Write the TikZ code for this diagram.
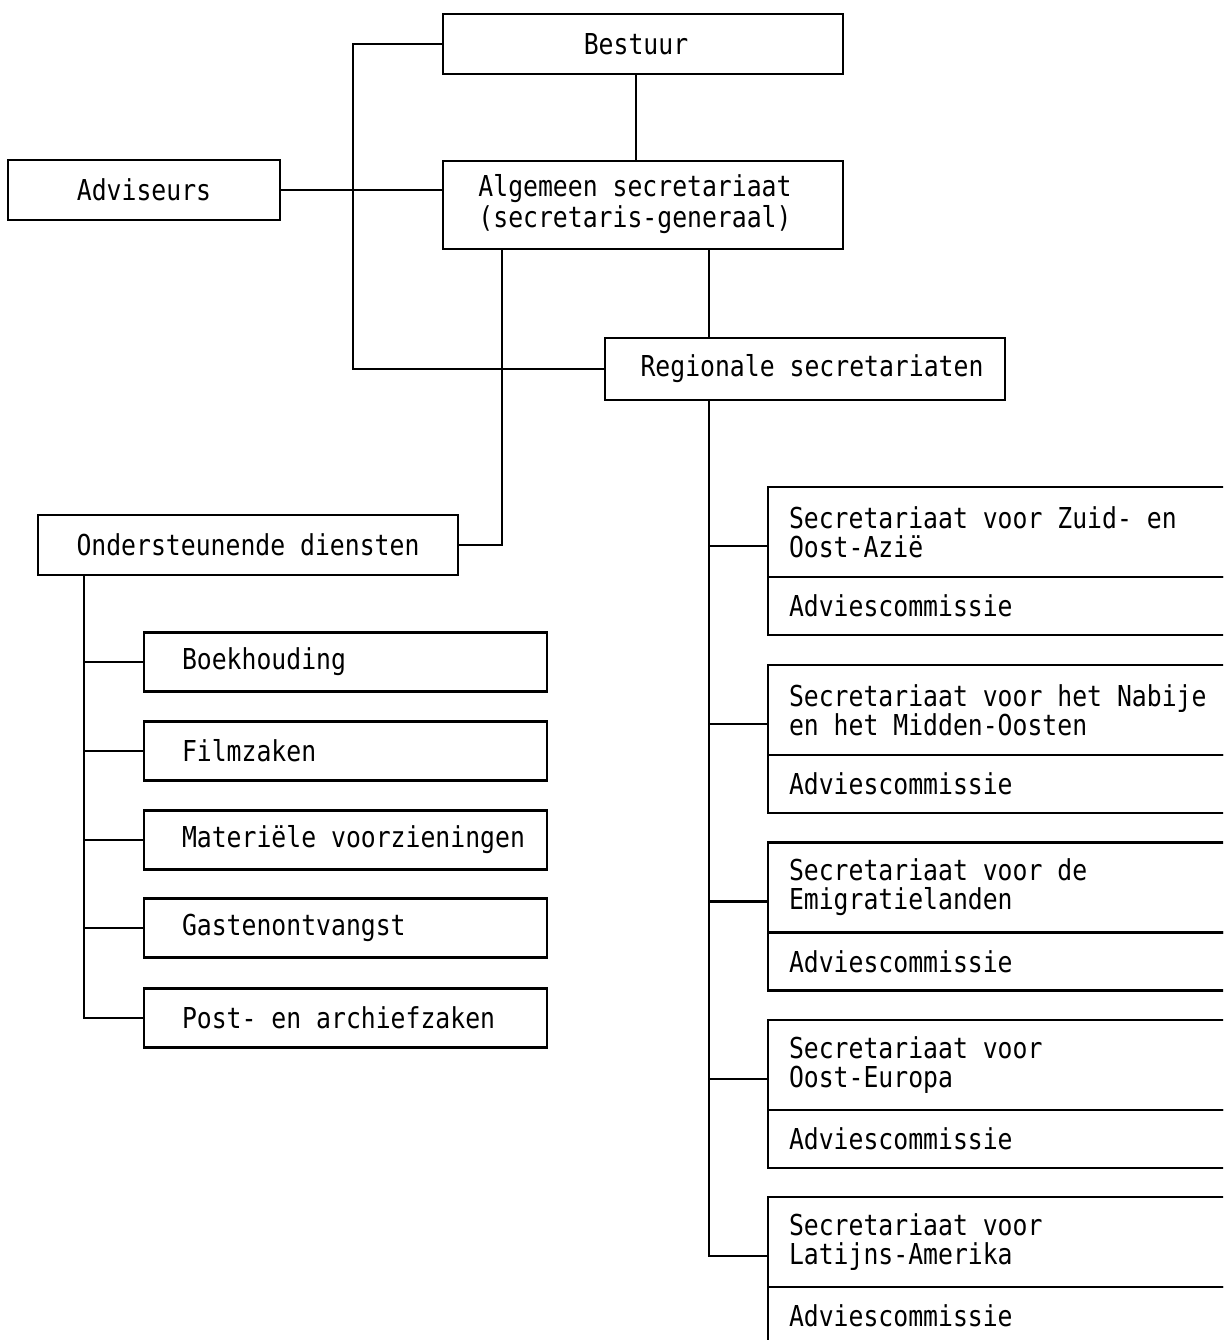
\documentclass[tikz,border=0pt]{standalone}
\usepackage{fontspec}
\newfontfamily\typew[FakeStretch=0.86]{DejaVu Sans Mono}
\newcommand\twfont{\typew\fontsize{14.4pt}{14.5pt}\selectfont
  \setbox0\hbox{x}\fontdimen2\font=\wd0 \fontdimen3\font=0pt \fontdimen4\font=0pt }
\begin{document}
\begin{tikzpicture}[x=0.5pt,y=-0.5pt,line width=1.4pt,
  box/.style={draw,rectangle,inner sep=0pt,outer sep=0pt,font=\twfont},
  lbox/.style={box,anchor=west,minimum height=29.5pt,text width=201.5pt,align=flush left,
    execute at begin node={\spaceskip=0pt\xspaceskip=0pt\hspace*{19pt}}},
  sbox/.style={box,anchor=north west,minimum height=45pt,text width=240pt,inner xsep=10.5pt,
    align=flush left,execute at begin node={\spaceskip=0pt\xspaceskip=0pt}},
  abox/.style={sbox,minimum height=29pt},
  conn/.style={draw,line width=1.4pt}]
\useasboundingbox (0,0) rectangle (1223,1340);
\clip (0,0) rectangle (1223,1340);

% top part
\node[box,minimum width=200pt,minimum height=30pt] (bestuur) at (643,44) {\hspace*{-7pt}Bestuur};
\node[box,minimum width=200pt,minimum height=44pt] (alg) at (643,205)
  {\hspace*{-8pt}\begin{tabular}{@{}c@{}}Algemeen secretariaat\\(secretaris-generaal)\end{tabular}};
\node[box,minimum width=136pt,minimum height=30pt] (adv) at (144,190) {Adviseurs};
\node[box,minimum width=200pt,minimum height=31pt] (reg) at (805,369) {\hspace*{7pt}Regionale secretariaten};
\node[box,minimum width=210pt,minimum height=30pt] (ond) at (248,545) {Ondersteunende diensten};

% left column
\node[lbox] (boek) at (144,662) {Boekhouding};
\node[lbox] (film) at (144,751) {Filmzaken};
\node[lbox] (mat)  at (144,840) {Materiële voorzieningen};
\node[lbox] (gast) at (144,928) {Gastenontvangst};
\node[lbox] (post) at (144,1018) {Post- en archiefzaken};

% right column
\node[sbox] (s1) at (768,487) {Secretariaat voor Zuid- en\\Oost-Azië};
\node[abox] (a1) at (s1.south west) {Adviescommissie};
\node[sbox] (s2) at (768,665) {Secretariaat voor het Nabije\\en het Midden-Oosten};
\node[abox] (a2) at (s2.south west) {Adviescommissie};
\node[sbox] (s3) at (768,842.5) {Secretariaat voor de\\Emigratielanden};
\node[abox] (a3) at (s3.south west) {Adviescommissie};
\node[sbox] (s4) at (768,1020) {Secretariaat voor\\Oost-Europa};
\node[abox] (a4) at (s4.south west) {Adviescommissie};
\node[sbox] (s5) at (768,1197) {Secretariaat voor\\Latijns-Amerika};
\node[abox] (a5) at (s5.south west) {Adviescommissie};

% helper coordinates
\coordinate (bx) at (636,0);
\coordinate (vx) at (353,0);
\coordinate (ox) at (502,0);
\coordinate (rx) at (709,0);
\coordinate (lx) at (84,0);
\foreach \i in {1,...,5}{\coordinate (b\i) at ([yshift=-7pt]s\i.west);}

% connectors
\draw[conn] (bestuur.south -| bx) -- (alg.north -| bx);
\draw[conn] (bestuur.west) -| (vx |- reg.west) -- (reg.west);
\draw[conn] (adv.east) -- (adv.east -| alg.west);
\draw[conn] (alg.south -| ox) |- (ond.east);
\draw[conn] (alg.south -| rx) -- (reg.north -| rx);
\draw[conn] (reg.south -| rx) |- (b5);
\foreach \i in {1,...,4}{\draw[conn] (rx |- b\i) -- (b\i);}
\draw[conn] (ond.south -| lx) |- (post.west);
\foreach \n in {boek,film,mat,gast}{\draw[conn] (lx |- \n.west) -- (\n.west);}
\end{tikzpicture}
\end{document}
